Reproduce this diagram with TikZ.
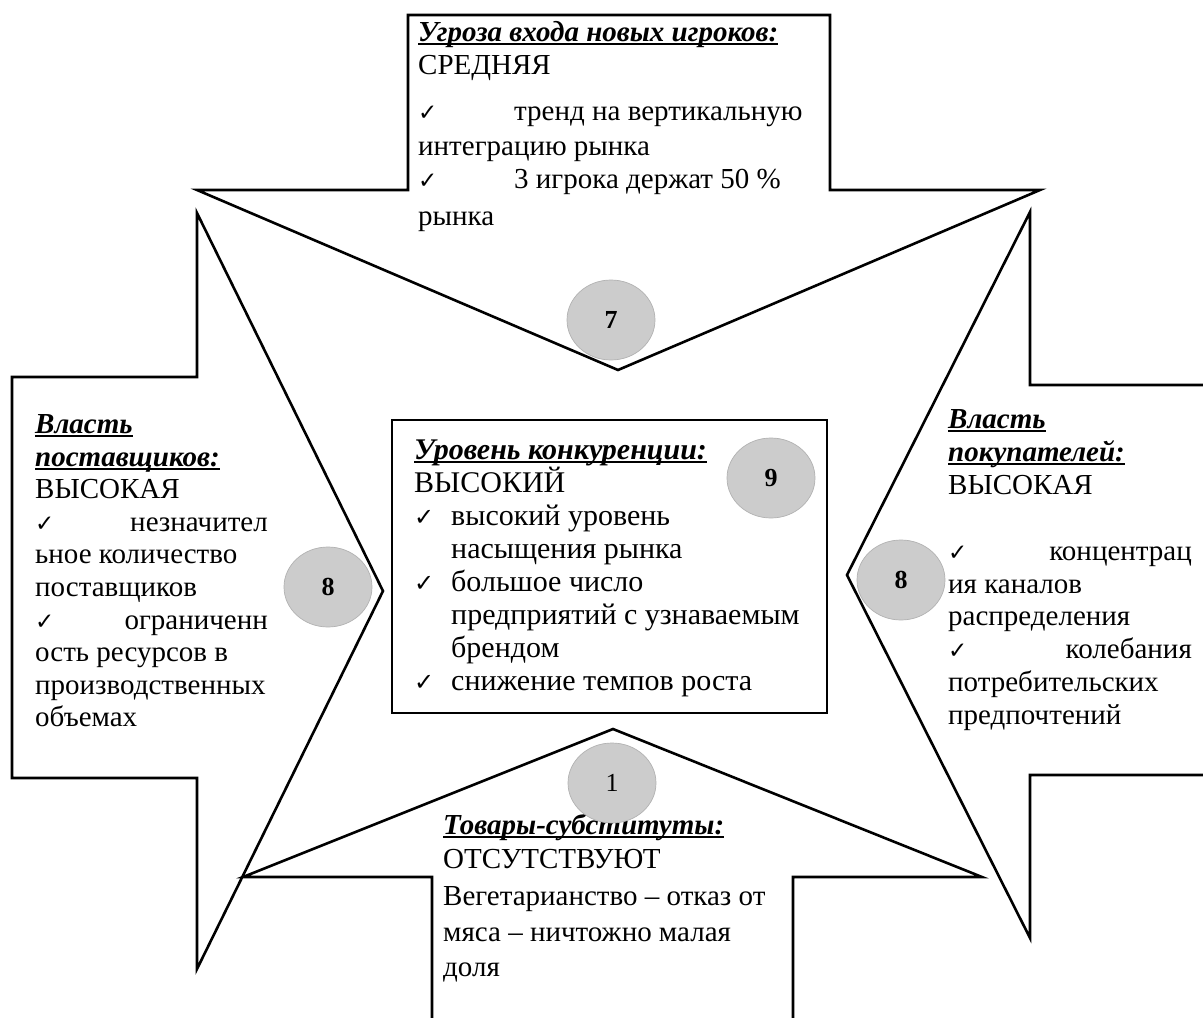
\documentclass[tikz,border=0pt]{standalone}
\usepackage{fontspec}
\setmainfont{Liberation Serif}
\newfontfamily\symfont{DejaVu Sans}
\usetikzlibrary{shapes.geometric}

% bold italic heading with a solid underline
\newcommand\ttl[1]{\setbox0\hbox{\bfseries\itshape #1}\rlap{\rule[-3.5pt]{\wd0}{2pt}}\box0}
% check mark bullets (thin and list style)
\newcommand\ck{{\symfont\fontsize{23}{23}\selectfont ✓}}
\newcommand\ckb{{\symfont\fontsize{24}{24}\selectfont ✓}}

\tikzset{
  outline/.style={draw=black, line width=2.6pt, line join=miter},
  txt/.style={anchor=base west, inner sep=0pt, font=\fontsize{29}{33}\selectfont},
  txtc/.style={txt, font=\fontsize{30}{33}\selectfont},
  txtr/.style={txt, anchor=base east},
  score/.style={ellipse, draw=black!30, line width=0.7pt, fill=black!20,
    minimum width=88pt, minimum height=80pt, inner sep=0pt,
    font=\fontsize{26}{26}\selectfont\bfseries},
}

\begin{document}
\begin{tikzpicture}[x=1pt, y=-1pt]
\useasboundingbox (0,0) rectangle (1203,1018);

% ---- arrow outlines ----
% top: threat of new entrants (points down)
\draw[outline] (408,15) -- (830,15) -- (830,190) -- (1040,190) -- (618,370)
  -- (197,190) -- (408,190) -- cycle;
% left: suppliers (points right)
\draw[outline] (12,377) -- (197,377) -- (197,213) -- (383,591) -- (197,969)
  -- (197,778) -- (12,778) -- cycle;
% right: buyers (points left, open to the page edge)
\draw[outline] (1215,385) -- (1030,385) -- (1030,212) -- (847,575)
  -- (1030,938) -- (1030,775) -- (1215,775);
% bottom: substitutes (points up, open to the page edge)
\draw[outline] (432,1030) -- (432,877) -- (243,877) -- (613,729)
  -- (982,877) -- (793,877) -- (793,1030);
% centre: rivalry
\draw[outline] (392,420) rectangle (827,713);

% ---- top block ----
\node[txt] (t1) at (418,41) {\ttl{Угроза входа новых игроков:}};
\node[txt] (t2) at (418,74) {СРЕДНЯЯ};
\node[txt] (t3c) at (418,120) {\ck};
\node[txt] (t3) at (514,120) {тренд на вертикальную};
\node[txt] (t4) at (418,155) {интеграцию рынка};
\node[txt] (t5c) at (418,188) {\ck};
\node[txt] (t5) at (514,188) {3 игрока держат 50 \%};
\node[txt] (t6) at (418,225) {рынка};

% ---- left block ----
\node[txt] (l1) at (35,433) {\ttl{Власть}};
\node[txt] (l2) at (35,466) {\ttl{поставщиков:}};
\node[txt] (l3) at (35,498) {ВЫСОКАЯ};
\node[txt] (l4c) at (35,531) {\ck};
\node[txtr] (l4) at (268,531) {незначител};
\node[txt] (l5) at (35,563) {ьное количество};
\node[txt] (l6) at (35,596) {поставщиков};
\node[txt] (l7c) at (35,629) {\ck};
\node[txtr] (l7) at (268,629) {ограниченн};
\node[txt] (l8) at (35,661) {ость ресурсов в};
\node[txt] (l9) at (35,694) {производственных};
\node[txt] (l10) at (35,726) {объемах};

% ---- right block ----
\node[txt] (r1) at (948,428) {\ttl{Власть}};
\node[txt] (r2) at (948,461) {\ttl{покупателей:}};
\node[txt] (r3) at (948,494) {ВЫСОКАЯ};
\node[txt] (r4c) at (948,560) {\ck};
\node[txtr] (r4) at (1192,560) {концентрац};
\node[txt] (r5) at (948,593) {ия каналов};
\node[txt] (r6) at (948,625) {распределения};
\node[txt] (r7c) at (948,658) {\ck};
\node[txtr] (r7) at (1192,658) {колебания};
\node[txt] (r8) at (948,691) {потребительских};
\node[txt] (r9) at (948,724) {предпочтений};

% ---- centre block ----
\node[txtc] (c1) at (414,459) {\ttl{Уровень конкуренции:}};
\node[txtc] (c2) at (414,492) {ВЫСОКИЙ};
\node[txtc] (c3c) at (414,525) {\ckb};
\node[txtc] (c3) at (451,525) {высокий уровень};
\node[txtc] (c4) at (451,558) {насыщения рынка};
\node[txtc] (c5c) at (414,591) {\ckb};
\node[txtc] (c5) at (451,591) {большое число};
\node[txtc] (c6) at (451,624) {предприятий с узнаваемым};
\node[txtc] (c7) at (451,657) {брендом};
\node[txtc] (c8c) at (414,690) {\ckb};
\node[txtc] (c8) at (451,690) {снижение темпов роста};

% ---- bottom block ----
\node[txt] (b1) at (443,834) {\ttl{Товары-субституты:}};
\node[txt] (b2) at (443,868) {ОТСУТСТВУЮТ};
\node[txt] (b3) at (443,905) {Вегетарианство – отказ от};
\node[txt] (b4) at (443,941) {мяса – ничтожно малая};
\node[txt] (b5) at (443,976) {доля};

% ---- force scores ----
\node[score] (s7) at (611,320) {7};
\node[score] (s9) at (771,478) {9};
\node[score] (s8l) at (328,587) {8};
\node[score] (s8r) at (901,580) {8};
\node[score, font=\fontsize{26}{26}\selectfont] (s1) at (612,783) {1};
\end{tikzpicture}
\end{document}
